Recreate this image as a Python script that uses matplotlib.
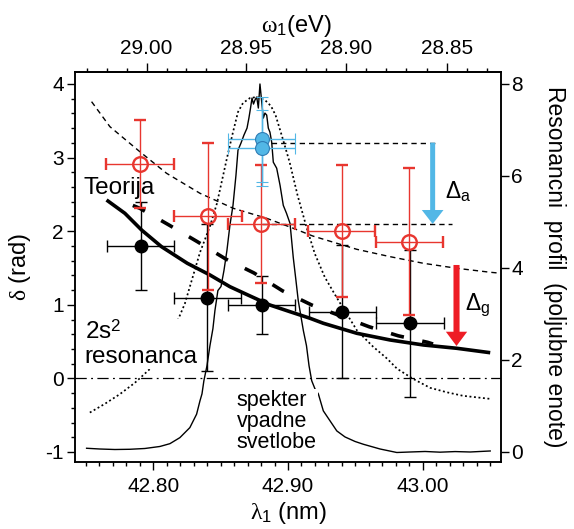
import numpy as np
import matplotlib
matplotlib.use('Agg')
import matplotlib.pyplot as plt
from matplotlib.ticker import FixedLocator, MultipleLocator, FormatStrFormatter

plt.rcParams['font.family'] = ['Liberation Sans', 'DejaVu Sans']
plt.rcParams['mathtext.fontset'] = 'custom'
plt.rcParams['mathtext.rm'] = 'Liberation Sans'
plt.rcParams['mathtext.it'] = 'Liberation Serif'
plt.rcParams['mathtext.bf'] = 'Liberation Sans:bold'
plt.rcParams['axes.unicode_minus'] = False

# ---------------- data ----------------
HC = 1241.06  # eV*nm used for the top axis

# measured phases delta_a (red open), delta_g (black filled), blue (atomic)
lam_red = [42.7901, 42.8408, 42.8803, 42.9399, 42.9901]
delta_red = [2.909, 2.202, 2.094, 2.003, 1.857]
yerr_red = [0.6, 1.0, 0.8, 0.9, 1.0]
xerr_red = [0.025, 0.025, 0.025, 0.025, 0.025]

lam_black = [42.7906, 42.8402, 42.8805, 42.9403, 42.9906]
delta_black = [1.799, 1.096, 0.997, 0.906, 0.749]
yerr_black = [0.6, 1.0, 0.4, 0.9, 1.0]
xerr_black = [0.025, 0.025, 0.025, 0.025, 0.025]

lam_blue = [42.8805, 42.8805]
delta_blue = [3.25, 3.13]
yerr_blue = [0.58, 0.52]
xerr_blue = [0.025, 0.025]

# theory (thick solid)
theory_lam = [42.7654, 42.7790, 42.7914, 42.8062, 42.8253, 42.8421, 42.8569,
              42.8718, 42.8866, 42.9015, 42.9163, 42.9262, 42.9510, 42.9757,
              43.0004, 43.0252, 43.0500]
theory_val = [2.424, 2.243, 2.016, 1.789, 1.564, 1.405, 1.246, 1.120, 0.997,
              0.906, 0.817, 0.749, 0.613, 0.522, 0.454, 0.409, 0.349]

# theory (thick dashed)
theory2_lam = [42.7849, 42.7901, 42.8117, 42.8328, 42.8540, 42.8748, 42.8959,
               42.9176, 42.9601, 42.9817, 43.0036, 43.0076]
theory2_val = [2.350, 2.311, 2.084, 1.857, 1.620, 1.432, 1.190, 0.997, 0.702,
               0.579, 0.490, 0.467]

# thin dashed curve
thin_lam = [42.7543, 42.7679, 42.7901, 42.8099, 42.8347, 42.8594, 42.8842,
            42.9039, 42.9183, 42.9510, 42.9757, 43.0004, 43.0252, 43.0500, 43.0570]
thin_val = [3.760, 3.420, 3.080, 2.787, 2.515, 2.311, 2.175, 2.040, 1.935,
            1.754, 1.654, 1.564, 1.496, 1.442, 1.430]

# horizontal reference levels (delta_a values) and their extent
level_val = [3.20, 2.094]
level_start = [42.8805, 42.8805]
level_end = [43.0104, 43.0215]

# arrows: x position, top, tip
arrow_a = (43.0073, 3.203, 2.098)
arrow_g = (43.0250, 1.541, 0.440)

# spectrum of incident light (right axis)
spec_lam = [42.7506, 42.7604, 42.7716, 42.7827, 42.7938, 42.8050, 42.8124,
            42.8198, 42.8272, 42.8322, 42.8347, 42.8362, 42.8376, 42.8399,
            42.8421, 42.8443, 42.8458, 42.8480, 42.8503, 42.8525, 42.8547,
            42.8569, 42.8592, 42.8614, 42.8629, 42.8651, 42.8673, 42.8696,
            42.8710, 42.8722, 42.8733, 42.8744, 42.8755, 42.8768, 42.8780,
            42.8792, 42.8805, 42.8817, 42.8829, 42.8842, 42.8854, 42.8866,
            42.8879, 42.8891, 42.8916, 42.8941, 42.8965, 42.8989, 42.9015,
            42.9039, 42.9059, 42.9076, 42.9114, 42.9137, 42.9156, 42.9176,
            42.9200, 42.9225, 42.9262, 42.9312, 42.9362, 42.9423, 42.9497,
            42.9559, 42.9683, 42.9807, 42.9906, 43.0017, 43.0128, 43.0240,
            43.0351, 43.0500]
spec_val = [0.081, 0.065, 0.054, 0.059, 0.076, 0.120, 0.181, 0.312, 0.530,
            0.822, 1.112, 1.264, 1.548, 1.875, 2.311, 2.681, 3.074, 3.510,
            3.597, 3.946, 4.381, 4.926, 5.362, 6.016, 6.561, 6.714, 6.888,
            7.041, 7.259, 7.477, 7.695, 7.564, 7.651, 7.717, 7.477, 8.000,
            7.608, 7.259, 7.368, 7.324, 7.041, 6.954, 6.736, 6.300, 6.169,
            5.798, 5.362, 5.188, 4.970, 4.229, 3.728, 3.292, 2.638, 2.311,
            1.875, 1.548, 1.373, 1.264, 0.894, 0.676, 0.458, 0.327, 0.229,
            0.168, 0.065, -0.011, 0.000, 0.011, -0.004, 0.009, 0.000, 0.022]

# 2s^2 resonance profile (right axis)
res_lam = [42.7530, 42.7641, 42.7753, 42.7864, 42.7975, 42.8087, 42.8235,
           42.8347, 42.8421, 42.8473, 42.8547, 42.8592, 42.8629, 42.8666,
           42.8718, 42.8770, 42.8829, 42.8874, 42.8908, 42.8960, 42.9012,
           42.9071, 42.9137, 42.9199, 42.9273, 42.9360, 42.9512, 42.9631,
           42.9735, 42.9809, 42.9928, 43.0054, 43.0180, 43.0299, 43.0500]
res_val = [0.857, 1.046, 1.258, 1.504, 1.803, 2.202, 3.226, 4.338, 4.905,
           5.406, 6.387, 6.954, 7.390, 7.586, 7.695, 7.717, 7.651, 7.520,
           7.320, 6.820, 6.300, 5.580, 4.889, 4.310, 3.800, 3.363, 2.640,
           2.290, 2.030, 1.810, 1.590, 1.395, 1.297, 1.221, 1.155]

x_major = [42.80, 42.90, 43.00]
omega_major = [29.00, 28.95, 28.90, 28.85]

# ---------------- figure ----------------
RED = '#E8362F'
RED_ARROW = '#EE1C25'
BLUE = '#52B7E6'
BLUE_EDGE = '#2F7DB5'

fig = plt.figure(figsize=(5.74, 5.29), dpi=100)
ax = fig.add_axes([75 / 574, 1 - 462 / 529, 426 / 574, 390 / 529])
ax2 = ax.twinx()
ax.set_zorder(ax2.get_zorder() + 1)
ax.patch.set_visible(False)

ylo, yhi = -1.136, 4.163
ax.set_xlim(42.742, 43.058)
ax.set_ylim(ylo, yhi)
ax2.set_ylim((ylo + 1) * 1.6, (yhi + 1) * 1.6)

# right-axis curves
ax2.plot(spec_lam, spec_val, color='black', lw=1.0)
ax2.plot(res_lam, res_val, color='black', lw=1.25, ls=(0, (1.1, 1.5)))

# zero line
ax.axhline(0, color='black', lw=0.9, ls=(0, (9, 3.5, 1.5, 3.5)), zorder=1)

# thin dashed curve and level lines
ax.plot(thin_lam, thin_val, color='black', lw=1.0, ls=(0, (3.8, 2.9)), zorder=2)
for lv, s, e in zip(level_val, level_start, level_end):
    ax.plot([s, e], [lv, lv], color='black', lw=1.0, ls=(0, (3.8, 2.9)), zorder=2)

# theory curves
ax.plot(theory_lam, theory_val, color='black', lw=2.6, zorder=3,
        solid_capstyle='butt')
ax.plot(theory2_lam, theory2_val, color='black', lw=2.6, ls=(0, (3.7, 5.2)),
        zorder=3)

# data points
ax.errorbar(lam_black, delta_black, xerr=xerr_black, yerr=yerr_black, fmt='o',
            color='black', ms=9, capsize=4.5, elinewidth=1.0, capthick=1.0,
            zorder=5)
ax.errorbar(lam_red, delta_red, xerr=xerr_red, yerr=yerr_red, fmt='o',
            mfc='none', mec=RED, mew=1.7, ms=10.5, ecolor=RED, capsize=4.5,
            elinewidth=1.0, capthick=1.0, zorder=6)
ax.errorbar(lam_blue, delta_blue, xerr=xerr_blue, yerr=yerr_blue, fmt='o',
            mfc=BLUE, mec=BLUE_EDGE, mew=0.8, ms=10, ecolor=BLUE, capsize=4.5,
            elinewidth=1.0, capthick=1.0, zorder=7)

# arrows
xa, ta, pa = arrow_a
ax.arrow(xa, ta, 0, pa - ta, width=0.0037, head_width=0.0161,
         head_length=0.19, length_includes_head=True, color=BLUE, lw=0,
         zorder=8)
xg, tg, pg = arrow_g
ax.arrow(xg, tg, 0, pg - tg, width=0.0045, head_width=0.0158,
         head_length=0.194, length_includes_head=True, color=RED_ARROW, lw=0,
         zorder=8)

# labels in plot
ax.text(43.0166, 2.447, r'$\Delta_\mathrm{a}$', fontsize=16.5, va='baseline',
        ha='left', zorder=9)
ax.text(43.0313, 0.929, r'$\Delta_\mathrm{g}$', fontsize=16.5, va='baseline',
        ha='left', zorder=9)
ax.text(42.748, 2.51, 'Teorija', fontsize=17.5, ha='left', va='baseline', zorder=9)
ax.text(42.7493, 0.47, '2s$^\\mathrm{2}$\nresonanca', fontsize=17.5, ha='left',
        va='center', linespacing=1.15, zorder=4,
        bbox=dict(fc='white', ec='none', pad=0.5))
ax.text(42.8619, -0.585, 'spekter\nvpadne\nsvetlobe', fontsize=15.5, ha='left',
        va='center', linespacing=1.0, zorder=4,
        bbox=dict(fc='white', ec='none', pad=1.0))

# ticks
ax.xaxis.set_major_locator(FixedLocator(x_major))
ax.xaxis.set_minor_locator(MultipleLocator(0.01))
ax.xaxis.set_major_formatter(FormatStrFormatter('%.2f'))
ax.yaxis.set_major_locator(MultipleLocator(1))
ax.yaxis.set_minor_locator(MultipleLocator(0.2))
ax.tick_params(which='both', direction='out', top=False, right=False, width=1.0)
ax.tick_params(which='major', length=6, labelsize=15)
ax.tick_params(axis='x', which='major', pad=5)
ax.tick_params(axis='y', which='major', pad=2)
ax.tick_params(which='minor', length=3.2)

ax2.yaxis.set_major_locator(MultipleLocator(2))
ax2.tick_params(which='major', direction='out', length=5.5, width=1.0,
                labelsize=15, pad=2)

sec = ax.secondary_xaxis('top', functions=(lambda l: HC / l, lambda w: HC / w))
sec.xaxis.set_major_locator(FixedLocator(omega_major))
sec.xaxis.set_minor_locator(FixedLocator(np.round(np.arange(28.83, 29.035, 0.01), 2)))
sec.xaxis.set_major_formatter(FormatStrFormatter('%.2f'))
sec.tick_params(which='major', direction='out', length=6.3, width=1.0,
                labelsize=15, pad=4)
sec.tick_params(which='minor', direction='out', length=3, width=1.0)
sec.set_xlabel(r'$\omega_\mathrm{1}$(eV)', fontsize=17, labelpad=5)
sec.xaxis.label.set_x(0.52)

for a in (ax, ax2):
    for sp in a.spines.values():
        sp.set_linewidth(1.1)
sec.spines['top'].set_linewidth(1.1)

ax.set_xlabel(r'$\lambda_\mathrm{1}$ (nm)', fontsize=17, labelpad=3)
ax.set_ylabel(r'$\delta$ (rad)', fontsize=17, labelpad=9)
ax2.set_ylabel('Resonancni  profil  (poljubne enote)', fontsize=16.5,
               rotation=270, va='bottom', labelpad=14)

fig.savefig('out.png', dpi=100)
